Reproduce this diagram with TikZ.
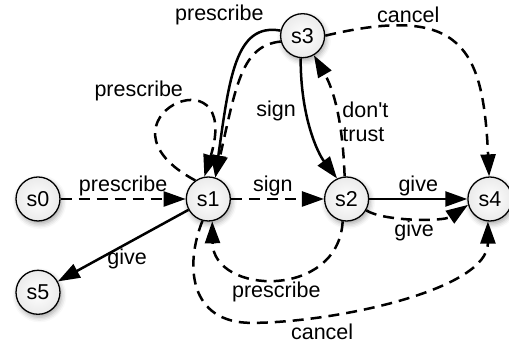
\documentclass[tikz,border=0pt]{standalone}
\usepackage{fontspec}
\setmainfont{Liberation Sans}
\usetikzlibrary{
  positioning,
  arrows.meta,
  calc,
  shadows.blur
}

\begin{document}
\begin{tikzpicture}[every node/.style={font=\fontsize{21.5}{24}\selectfont},
  state/.style={draw, circle, line width=1.3pt, minimum size=44pt, inner sep=0pt, inner color=white, outer color=black!8, blur shadow={shadow xshift=1.5pt, shadow yshift=-3pt, shadow blur radius=5pt, shadow opacity=35}},
  trans/.style={line width=2.5pt, -{Triangle[length=22pt,width=15pt]}},
  dtrans/.style={trans, dash pattern=on 11pt off 7pt},
  lbl/.style={inner sep=2pt}
]

% States
\node[state] (s0) {s0};
\path[use as bounding box] ($(s0.center)+(-38pt,199pt)$) rectangle +(509pt,-352pt);
\node[state, right=125pt of s0] (s1) {s1};
\node[state, right=93pt of s1] (s2) {s2};
\node[state, right=98pt of s2] (s4) {s4};
\node[state, above=118pt of s2, xshift=-44pt] (s3) {s3};
\node[state, below=48pt of s0] (s5) {s5};

% Transitions
\draw[dtrans] (s0) -- node[above, lbl]{prescribe} (s1);
\draw[dtrans] (s1) -- node[above, lbl, pos=0.45]{sign} (s2);
\draw[trans] (s2) -- node[above, lbl]{give} (s4);
\draw[dtrans] (s2.-30) .. controls +(17pt,-11pt) and +(-25pt,-17pt) .. (s4.195) node[below, lbl, pos=0.5]{give};
\draw[trans] (s1) -- node[below, lbl, xshift=4pt]{give} (s5);
\draw[trans] (s3.167) .. controls +(-45pt,8pt) and +(14pt,100pt) .. (s1.72) node[above left, pos=0.1, yshift=1pt]{prescribe};
\draw[dtrans] (s3.195) .. controls +(-39pt,-4pt) and +(21pt,93pt) .. (s1.72);
\draw[dtrans] (s1.125) .. controls +(-112pt,60pt) and +(40pt,130pt) .. (s1.100) node[above left, pos=0.6, inner sep=2pt]{prescribe};
\draw[trans] (s3.-95) .. controls +(0pt,-60pt) and +(-19pt,25pt) .. (s2.115) node[left, pos=0.34, inner sep=9pt]{sign};
\draw[dtrans] (s2.95) .. controls +(-2pt,58pt) and +(19pt,-33pt) .. (s3.-60) node[right, pos=0.37, align=left, inner sep=2pt]{don\textquotesingle t\\trust};
\draw[dtrans] (s3.east) .. controls +(138pt,33pt) and +(-6pt,127pt) .. (s4.92) node[above, pos=0.25, lbl]{cancel};
\draw[dtrans] (s2.-100) .. controls +(-4pt,-78pt) and +(1pt,-74pt) .. (s1.-80) node[below, pos=0.5, lbl]{prescribe};
\draw[dtrans] (s1.-105) .. controls +(-18pt,-45pt) and +(-62pt,0pt) .. ++(49pt,-102pt) .. controls +(80pt,0pt) and +(0pt,-69pt) .. (s4.-95) node[below, pos=0.25, inner sep=6pt]{cancel};

\end{tikzpicture}
\end{document}
